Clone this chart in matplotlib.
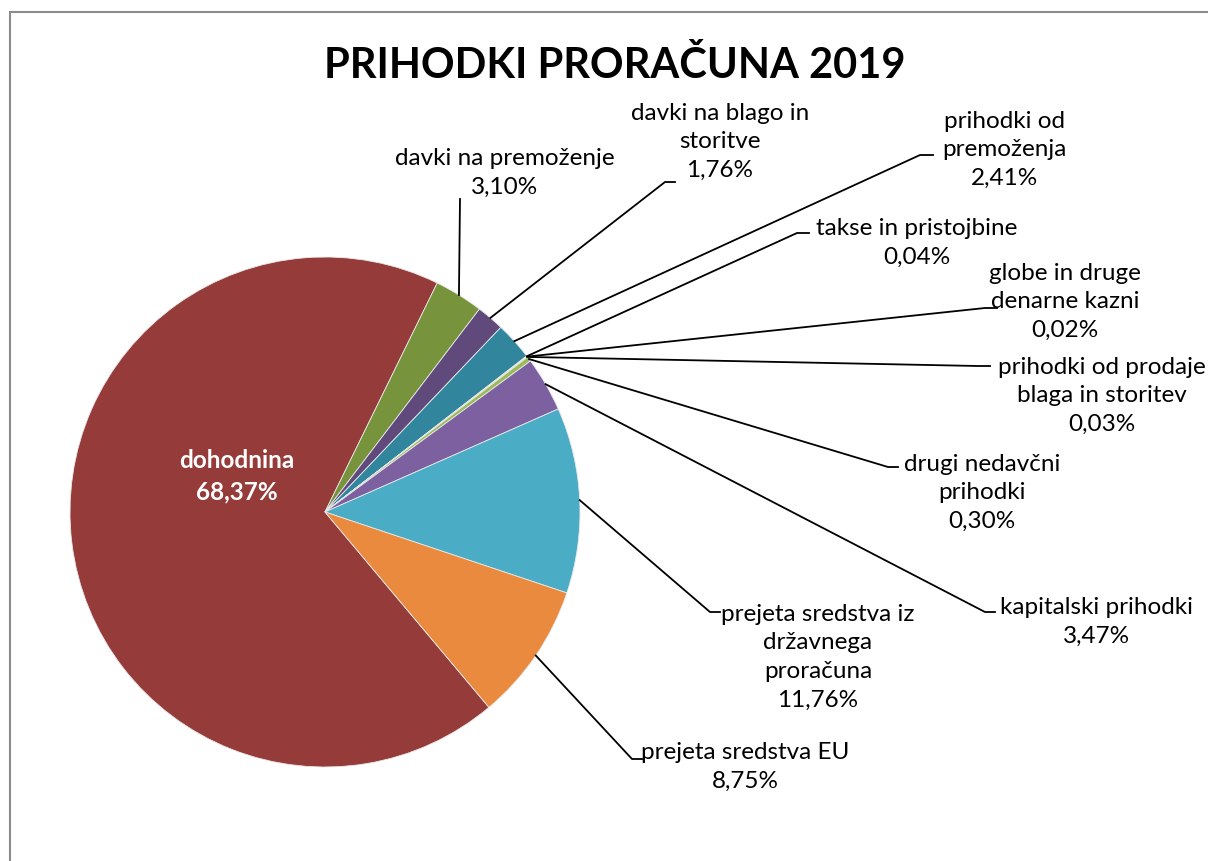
import numpy as np
import matplotlib
matplotlib.use('Agg')
from matplotlib import pyplot as plt
from matplotlib.patches import Rectangle

plt.rcParams['font.family'] = ['Lato', 'DejaVu Sans']

# data
names = ['dohodnina', 'davki na premoženje', 'davki na blago in storitve',
         'prihodki od premoženja', 'takse in pristojbine',
         'globe in druge denarne kazni', 'prihodki od prodaje blaga in storitev',
         'drugi nedavčni prihodki', 'kapitalski prihodki',
         'prejeta sredstva iz državnega proračuna', 'prejeta sredstva EU']
shares = [68.37, 3.10, 1.76, 2.41, 0.04, 0.02, 0.03, 0.30, 3.47, 11.76, 8.75]
label_text = ['dohodnina', 'davki na premoženje', 'davki na blago in\nstoritve',
              'prihodki od\npremoženja', 'takse in pristojbine',
              'globe in druge\ndenarne kazni', 'prihodki od prodaje\nblaga in storitev',
              'drugi nedavčni\nprihodki', 'kapitalski prihodki',
              'prejeta sredstva iz\ndržavnega\nproračuna', 'prejeta sredstva EU']
colors = ['#953B39', '#77933C', '#604A7B', '#31859C', '#C0504D', '#4F81BD',
          '#D9A48C', '#9BBB59', '#7D60A0', '#4BACC6', '#E98A3F']

W, H = 1208, 862
def P(x, y):
    # pixel position (top-left origin) -> data coords
    return x, H - y

# label block centres and leader hooks, in pixels
label_pos = [None, (505, 173), (720, 142), (1004, 150), (917, 243), (1065, 302),
             (1102, 396), (982, 493), (1097, 622), (818, 657), (745, 767)]
hooks = [None, (460, 460, 200), (665, 675, 183), (920, 933, 156), (797, 809, 234),
         (985, 997, 309), (978, 990, 367), (888, 898, 468), (985, 995, 613),
         (710, 720, 613), (632, 642, 760)]

fig = plt.figure(figsize=(12.08, 8.62), dpi=100)
ax = fig.add_axes([0, 0, 1, 1])

ax.add_patch(Rectangle(P(10, 880), 1250, 867, fill=False, edgecolor='#8c8c8c', lw=1.5))

cx, cy = P(325, 513)
r = 255
wedges, _ = ax.pie(shares, colors=colors, startangle=-50, counterclock=False,
                   center=(cx, cy), radius=r, frame=True,
                   wedgeprops=dict(edgecolor='#e8e8e8', linewidth=0.6))
ax.set_xlim(0, W)
ax.set_ylim(0, H)
ax.set_aspect('equal')
ax.axis('off')

fs = 17.5
for i, w in enumerate(wedges):
    pct = f'{shares[i]:.2f}%'.replace('.', ',')
    txt = label_text[i] + '\n' + pct
    if i == 0:
        ax.text(*P(237, 476), txt, ha='center', va='center', fontsize=fs,
                color='white', fontweight='bold', linespacing=1.45)
        continue
    mid = np.deg2rad((w.theta1 + w.theta2) / 2)
    ex, ey = cx + r * np.cos(mid), cy + r * np.sin(mid)
    hx0, hx1, hy = hooks[i]
    _, hyd = P(0, hy)
    ax.plot([ex, hx0, hx1], [ey, hyd, hyd], color='black', lw=1.3)
    ax.text(*P(*label_pos[i]), txt, ha='center', va='center', fontsize=fs,
            color='black', linespacing=1.45)

ax.text(*P(615, 65), 'PRIHODKI PRORAČUNA 2019', ha='center', va='center',
        fontsize=30, fontweight='bold')

fig.savefig('out.png', dpi=100, facecolor='white')
